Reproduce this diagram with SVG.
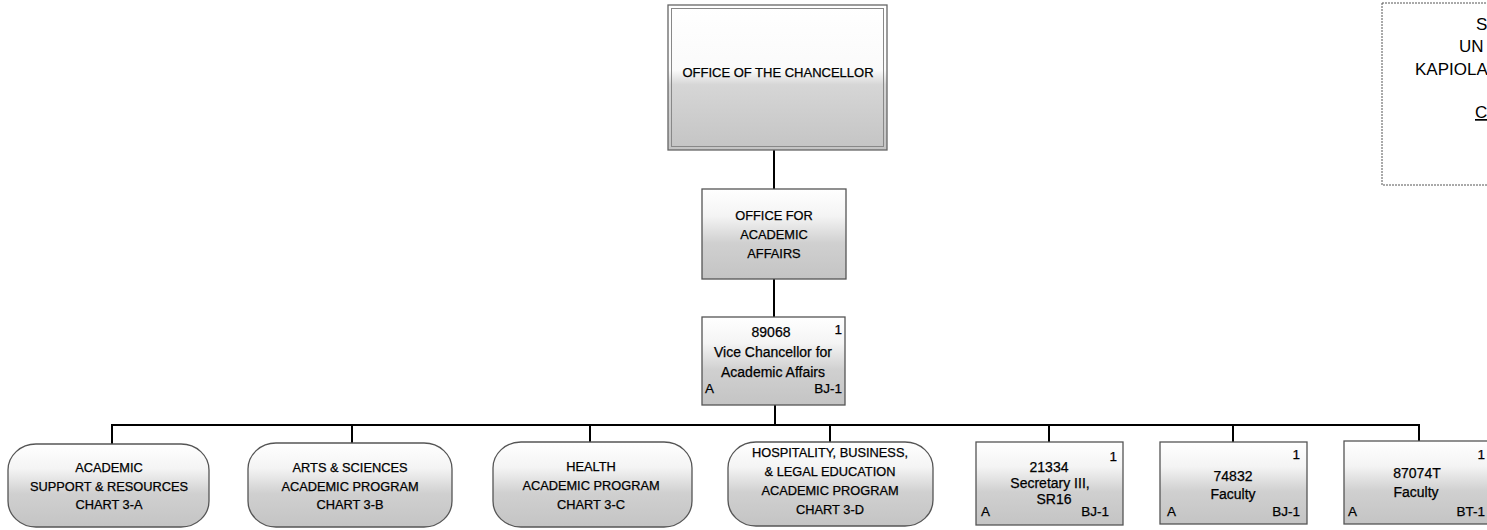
<svg xmlns="http://www.w3.org/2000/svg" width="1487" height="530" viewBox="0 0 1487 530">
  <defs>
    <linearGradient id="g" x1="0" y1="0" x2="0" y2="1">
      <stop offset="0" stop-color="#ffffff"/>
      <stop offset="0.45" stop-color="#fafafa"/>
      <stop offset="0.55" stop-color="#d6d6d6"/>
      <stop offset="1" stop-color="#c4c4c4"/>
    </linearGradient>
    <linearGradient id="g2" x1="0" y1="0" x2="0" y2="1">
      <stop offset="0" stop-color="#ffffff"/>
      <stop offset="0.3" stop-color="#f4f4f4"/>
      <stop offset="0.6" stop-color="#d0d0d0"/>
      <stop offset="1" stop-color="#c4c4c4"/>
    </linearGradient>
  </defs>
  <style>
    text { font-family: "Liberation Sans", Arial, sans-serif; fill: #000; stroke: #000; stroke-width: 0.25; }
    .cap { font-size: 12.8px; text-anchor: middle; }
    .mix { font-size: 14px; text-anchor: middle; }
    .sm { font-size: 13.5px; }
    .end { text-anchor: end; }
    .box { fill: url(#g2); stroke: #555; stroke-width: 1.3; }
    .inner { fill: none; stroke: #888; stroke-width: 1; }
    .conn { fill: none; stroke: #000; stroke-width: 2; }
    .title { font-size: 17px; stroke-width: 0; }
  </style>
  <rect width="1487" height="530" fill="#ffffff"/>

  <g id="connectors">
    <line class="conn" x1="774" y1="150" x2="774" y2="189"/>
    <line class="conn" x1="774" y1="279" x2="774" y2="317"/>
    <line class="conn" x1="775" y1="405" x2="775" y2="425"/>
    <line class="conn" x1="111" y1="425" x2="1420" y2="425"/>
    <line class="conn" x1="112" y1="425" x2="112" y2="444"/>
    <line class="conn" x1="352" y1="425" x2="352" y2="443"/>
    <line class="conn" x1="590" y1="425" x2="590" y2="442"/>
    <line class="conn" x1="830" y1="425" x2="830" y2="442"/>
    <line class="conn" x1="1049" y1="425" x2="1049" y2="442"/>
    <line class="conn" x1="1233" y1="425" x2="1233" y2="442"/>
    <line class="conn" x1="1419" y1="425" x2="1419" y2="441"/>
  </g>

  <g id="title-box">
    <rect x="1382" y="3" width="110" height="182" fill="#fff" stroke="#555" stroke-width="1" stroke-dasharray="2 1"/>
    <text class="title" x="1476" y="30">S</text>
    <text class="title" x="1459" y="52">UN</text>
    <text class="title" x="1415" y="75">KAPIOLA</text>
    <text class="title" x="1475" y="118" text-decoration="underline">C</text>
  </g>

  <g id="chancellor">
    <rect x="668" y="5" width="219" height="145" fill="url(#g)" stroke="#666" stroke-width="1.3"/>
    <rect class="inner" x="671.5" y="8.5" width="212" height="138"/>
    <text x="778" y="77" style="font-size:13px;text-anchor:middle">OFFICE OF THE CHANCELLOR</text>
  </g>

  <g id="academic-affairs">
    <rect class="box" x="702" y="189" width="144" height="90"/>
    <text class="cap" x="774" y="219.5">OFFICE FOR</text>
    <text class="cap" x="774" y="239">ACADEMIC</text>
    <text class="cap" x="774" y="258">AFFAIRS</text>
  </g>

  <g id="vc">
    <rect class="box" x="702" y="317" width="143" height="88"/>
    <text class="mix" x="771" y="337">89068</text>
    <text class="sm end" x="842" y="334">1</text>
    <text class="mix" x="773" y="357">Vice Chancellor for</text>
    <text class="mix" x="773" y="377">Academic Affairs</text>
    <text class="sm" x="705" y="393">A</text>
    <text class="sm end" x="842" y="393">BJ-1</text>
  </g>

  <g id="chart-3a">
    <rect class="box" x="8" y="444" width="201" height="83" rx="28" ry="26"/>
    <text class="cap" x="109" y="472">ACADEMIC</text>
    <text class="cap" x="109" y="490.5">SUPPORT &amp; RESOURCES</text>
    <text class="cap" x="109" y="509">CHART 3-A</text>
  </g>

  <g id="chart-3b">
    <rect class="box" x="248" y="443" width="204" height="84" rx="28" ry="26"/>
    <text class="cap" x="350" y="472">ARTS &amp; SCIENCES</text>
    <text class="cap" x="350" y="490.5">ACADEMIC PROGRAM</text>
    <text class="cap" x="350" y="509">CHART 3-B</text>
  </g>

  <g id="chart-3c">
    <rect class="box" x="493" y="442" width="199" height="85" rx="28" ry="26"/>
    <text class="cap" x="591" y="471">HEALTH</text>
    <text class="cap" x="591" y="490">ACADEMIC PROGRAM</text>
    <text class="cap" x="591" y="509">CHART 3-C</text>
  </g>

  <g id="chart-3d">
    <rect class="box" x="728" y="442" width="205" height="84" rx="28" ry="26"/>
    <text class="cap" x="830" y="457">HOSPITALITY, BUSINESS,</text>
    <text class="cap" x="830" y="476">&amp; LEGAL EDUCATION</text>
    <text class="cap" x="830" y="495">ACADEMIC PROGRAM</text>
    <text class="cap" x="830" y="514">CHART 3-D</text>
  </g>

  <g id="pos-21334">
    <rect class="box" x="976" y="442" width="147" height="83"/>
    <text class="sm end" x="1117" y="461">1</text>
    <text class="mix" x="1049" y="472">21334</text>
    <text class="mix" x="1050" y="488">Secretary III,</text>
    <text class="mix" x="1054" y="504">SR16</text>
    <text class="sm" x="981" y="516">A</text>
    <text class="sm end" x="1109" y="516">BJ-1</text>
  </g>

  <g id="pos-74832">
    <rect class="box" x="1160" y="442" width="147" height="82"/>
    <text class="sm end" x="1300" y="459">1</text>
    <text class="mix" x="1233" y="481">74832</text>
    <text class="mix" x="1233" y="499">Faculty</text>
    <text class="sm" x="1167" y="516">A</text>
    <text class="sm end" x="1300" y="516">BJ-1</text>
  </g>

  <g id="pos-87074T">
    <rect class="box" x="1344" y="441" width="148" height="83"/>
    <text class="sm end" x="1485" y="459">1</text>
    <text class="mix" x="1417" y="478">87074T</text>
    <text class="mix" x="1416" y="497">Faculty</text>
    <text class="sm" x="1348" y="516">A</text>
    <text class="sm end" x="1485" y="516">BT-1</text>
  </g>
</svg>
